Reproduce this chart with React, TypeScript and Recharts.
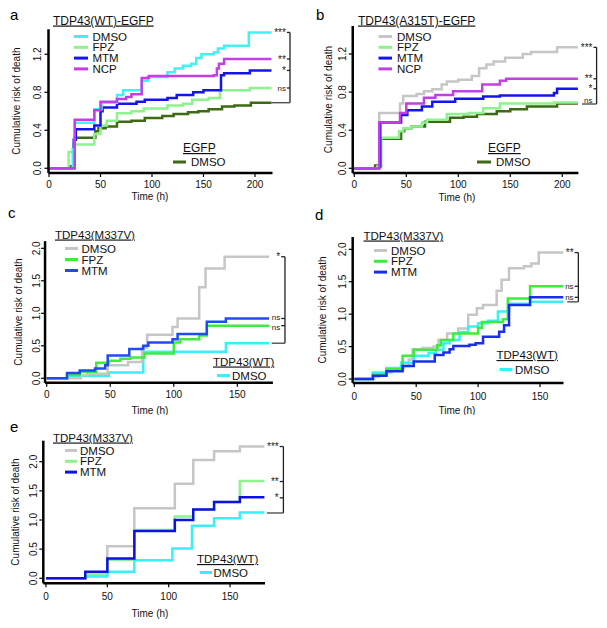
import React from 'react';
import { LineChart, Line, XAxis, YAxis, ReferenceLine, ReferenceDot } from 'recharts';

type Pt = [number, number];
const FONT = '"Liberation Sans", Arial, Helvetica, sans-serif';

// ---------- Panel a : TDP43(WT)-EGFP ----------
const aXTicks = [0, 50, 100, 150, 200];
const aYTicks = [0, 0.4, 0.8, 1.2];
const aDMSO: Pt[] = [[0,0],[23,0.2],[25,0.48],[44,0.62],[51,0.69],[66,0.77],[72,0.82],[90,0.92],[96,0.96],[115,1.01],[122,1.05],[130,1.08],[138,1.1],[143,1.16],[148,1.2],[160,1.22],[164,1.26],[170,1.29],[194,1.43],[216,1.43]];
const aFPZ: Pt[] = [[0,0],[19,0.17],[24,0.25],[44,0.36],[50,0.45],[56,0.5],[66,0.58],[80,0.6],[92,0.63],[115,0.66],[130,0.68],[139,0.72],[155,0.74],[166,0.82],[195,0.845],[216,0.845]];
const aMTM: Pt[] = [[0,0],[24,0.3],[26,0.41],[44,0.45],[50,0.6],[52,0.64],[66,0.68],[85,0.7],[93,0.72],[115,0.74],[124,0.77],[140,0.8],[150,0.82],[167,0.98],[170,1.0],[195,1.03],[216,1.03]];
const aNCP: Pt[] = [[0,0],[25,0.51],[44,0.61],[50,0.7],[66,0.73],[75,0.75],[80,0.78],[90,0.95],[97,0.97],[160,0.98],[163,1.05],[165,1.1],[170,1.15],[216,1.15]];
const aEGFP: Pt[] = [[0,0],[20,0.02],[25,0.32],[45,0.39],[48,0.42],[55,0.44],[66,0.49],[80,0.5],[93,0.53],[110,0.55],[121,0.57],[135,0.59],[145,0.6],[155,0.62],[168,0.65],[180,0.66],[196,0.69],[216,0.69]];

// ---------- Panel b : TDP43(A315T)-EGFP ----------
const bXTicks = [0, 50, 100, 150, 200];
const bYTicks = [0, 0.4, 0.8, 1.2];
const bDMSO: Pt[] = [[0,0],[24,0.58],[44,0.68],[47,0.76],[60,0.78],[67,0.81],[75,0.83],[84,0.88],[89,0.91],[100,0.93],[113,0.97],[120,1.05],[127,1.09],[134,1.12],[145,1.16],[162,1.2],[170,1.22],[195,1.27],[215,1.27]];
const bFPZ: Pt[] = [[0,0],[22,0.02],[26,0.32],[43,0.39],[47,0.42],[55,0.44],[65,0.48],[70,0.51],[89,0.57],[110,0.58],[124,0.63],[140,0.68],[192,0.69],[215,0.69]];
const bMTM: Pt[] = [[0,0],[24,0.02],[25,0.48],[45,0.56],[51,0.61],[65,0.65],[75,0.7],[97,0.73],[124,0.755],[140,0.765],[192,0.79],[195,0.835],[215,0.835]];
const bNCP: Pt[] = [[0,0],[24,0.48],[44,0.58],[50,0.68],[67,0.74],[78,0.77],[95,0.81],[123,0.88],[140,0.92],[146,0.94],[215,0.94]];
const bEGFP: Pt[] = [[0,0],[20,0.03],[25,0.31],[45,0.39],[48,0.42],[55,0.44],[68,0.49],[92,0.53],[105,0.54],[118,0.57],[137,0.6],[150,0.62],[166,0.65],[195,0.68],[215,0.68]];

// ---------- Panel c : TDP43(M337V) ----------
const cXTicks = [0, 50, 100, 150];
const cYTicks = [0, 0.5, 1, 1.5, 2];
const cDMSO: Pt[] = [[0,0],[27,0.05],[32,0.07],[48,0.2],[64,0.25],[75,0.47],[79,0.67],[99,0.79],[103,0.92],[120,1.4],[125,1.69],[140,1.87],[175,1.87]];
const cFPZ: Pt[] = [[0,0],[16,0.05],[26,0.1],[39,0.24],[49,0.27],[58,0.3],[66,0.32],[77,0.38],[100,0.55],[105,0.6],[120,0.66],[126,0.81],[175,0.81]];
const cMTM: Pt[] = [[0,0],[16,0.08],[26,0.12],[38,0.15],[46,0.2],[48,0.35],[65,0.45],[76,0.5],[80,0.55],[99,0.6],[103,0.68],[126,0.87],[141,0.92],[175,0.92]];
const cWT: Pt[] = [[0,0],[16,0.04],[49,0.09],[76,0.41],[141,0.54],[175,0.54]];

// ---------- Panel d : TDP43(M337V) ----------
const dXTicks = [0, 50, 100, 150];
const dYTicks = [0, 0.5, 1, 1.5, 2];
const dDMSO: Pt[] = [[0,0],[16,0.03],[20,0.06],[26,0.1],[30,0.15],[40,0.2],[44,0.3],[47,0.46],[55,0.48],[64,0.5],[68,0.6],[75,0.7],[84,0.78],[92,0.99],[99,1.09],[104,1.14],[115,1.36],[119,1.53],[125,1.71],[137,1.74],[143,1.78],[149,1.95],[169,1.95]];
const dFPZ: Pt[] = [[0,0],[15,0.07],[26,0.15],[39,0.36],[48,0.45],[67,0.52],[70,0.6],[80,0.7],[100,0.79],[103,0.88],[120,0.92],[124,1.24],[142,1.43],[169,1.43]];
const dMTM: Pt[] = [[0,0],[15,0.05],[26,0.12],[39,0.2],[48,0.27],[65,0.37],[72,0.41],[77,0.46],[80,0.51],[93,0.53],[98,0.55],[104,0.65],[117,0.73],[121,0.83],[125,1.14],[142,1.26],[169,1.26]];
const dWT: Pt[] = [[0,0],[15,0.1],[26,0.17],[38,0.25],[48,0.36],[60,0.4],[66,0.45],[72,0.55],[77,0.6],[85,0.72],[92,0.81],[100,0.86],[108,0.9],[116,1.04],[125,1.16],[142,1.19],[169,1.19]];

// ---------- Panel e : TDP43(M337V) ----------
const eXTicks = [0, 50, 100, 150];
const eYTicks = [0, 0.5, 1, 1.5, 2];
const eDMSO: Pt[] = [[0,0],[32,0.06],[50,0.55],[72,1.2],[105,1.62],[120,2.03],[137,2.18],[158,2.26],[178,2.26]];
const eFPZ: Pt[] = [[0,0],[32,0.06],[50,0.32],[72,0.83],[105,1.06],[120,1.18],[137,1.31],[158,1.67],[178,1.67]];
const eMTM: Pt[] = [[0,0],[32,0.11],[50,0.34],[72,0.81],[105,1.0],[120,1.18],[137,1.31],[158,1.39],[178,1.39]];
const eWT: Pt[] = [[0,0],[32,0.03],[50,0.11],[72,0.31],[103,0.51],[119,0.9],[137,1.03],[158,1.13],[178,1.13]];

// ---------- labels ----------
const treatments4 = ['DMSO', 'FPZ', 'MTM', 'NCP'];
const treatments3 = ['DMSO', 'FPZ', 'MTM'];

const C = {
  cyan: '#3ff3f3', lgreen: '#8ef28e', blue: '#1414ee', magenta: '#c23fe6', dgreen: '#3d6a12',
  grey: '#c6c6c6', green: '#3cee3c', rblue: '#1f4cee', dblue: '#1a2fee', eblue: '#1010e0', cyan2: '#36f0fa',
};

type Series = { pts: Pt[]; color: string };
type Sig = { y: number; text: string; tick?: boolean; ly?: number };
type PanelCfg = {
  box: { left: number; top: number; width: number; height: number };
  margin: { top: number; right: number; bottom: number; left: number };
  xDomain: [number, number]; yDomain: [number, number];
  xTicks: number[]; yTicks: number[];
  series: Series[];
  xb: number; tick: number; sigs: Sig[]; bottom: { y: number; from: number };
  yLabelX: number; xLabel: { x: number; y: number }; yTickOff: number; xTickMargin: number;
};

const AX_H = 20;
const AX_W = 30;

function Panel({ cfg }: { cfg: PanelCfg }) {
  const { box, margin } = cfg;
  const plotH = box.height - margin.top - margin.bottom - AX_H;
  const yMid = margin.top + plotH / 2;
  const topY = Math.max(...cfg.sigs.map((s) => s.y));
  return (
    <div style={{ position: 'absolute', left: box.left, top: box.top, width: box.width, height: box.height }}>
      <LineChart width={box.width} height={box.height} margin={margin}>
        <XAxis
          type="number" dataKey="t" domain={cfg.xDomain} allowDataOverflow ticks={cfg.xTicks} interval={0}
          height={AX_H} tickSize={4} tickMargin={cfg.xTickMargin}
          axisLine={{ stroke: '#000', strokeWidth: 2.5 }} tickLine={{ stroke: '#000', strokeWidth: 1.2 }}
          tick={{ fontSize: 10, fill: '#111', fontFamily: FONT }}
          label={() => (
            <text x={cfg.xLabel.x - box.left} y={cfg.xLabel.y - box.top} textAnchor="middle" fontSize={10} fontFamily={FONT} fill="#111">Time (h)</text>
          )}
        />
        <YAxis
          type="number" domain={cfg.yDomain} allowDataOverflow ticks={cfg.yTicks} interval={0} width={AX_W}
          tickSize={4} tickMargin={0}
          axisLine={{ stroke: '#000', strokeWidth: 2.5 }} tickLine={{ stroke: '#000', strokeWidth: 1.2 }}
          tick={(p: any) => {
            const cx = p.x - cfg.yTickOff;
            return (
              <text x={cx} y={p.y} transform={`rotate(-90 ${cx} ${p.y})`} textAnchor="middle" dominantBaseline="central" fontSize={10} fontFamily={FONT} fill="#111">
                {Number(p.payload.value).toFixed(1)}
              </text>
            );
          }}
          label={() => {
            const lx = cfg.yLabelX - box.left;
            return (
              <text x={lx} y={yMid} transform={`rotate(-90 ${lx} ${yMid})`} textAnchor="middle" dominantBaseline="central" fontSize={10} fontFamily={FONT} fill="#111">
                Cumulative risk of death
              </text>
            );
          }}
        />
        {cfg.series.map((s, i) => (
          <Line key={i} data={s.pts.map(([t, v]) => ({ t, v }))} dataKey="v" type="stepAfter" stroke={s.color}
            strokeWidth={2.5} dot={false} activeDot={false} isAnimationActive={false} />
        ))}
        <ReferenceLine segment={[{ x: cfg.xb, y: topY }, { x: cfg.xb, y: cfg.bottom.y }]} stroke="#222" strokeWidth={1.3} ifOverflow="visible" />
        <ReferenceLine segment={[{ x: cfg.bottom.from, y: cfg.bottom.y }, { x: cfg.xb, y: cfg.bottom.y }]} stroke="#444" strokeWidth={1.3} ifOverflow="visible" />
        {cfg.sigs.filter((s) => s.tick !== false).map((s, i) => (
          <ReferenceLine key={'t' + i} segment={[{ x: cfg.xb - cfg.tick, y: s.y }, { x: cfg.xb, y: s.y }]} stroke="#222" strokeWidth={1.3} ifOverflow="visible" />
        ))}
        {cfg.sigs.map((s, i) => (
          <ReferenceDot key={'d' + i} x={cfg.xb - cfg.tick} y={s.ly ?? s.y} r={0} fill="none" stroke="none" ifOverflow="visible"
            label={{ value: s.text, position: 'left', offset: 1, fontSize: s.text === 'ns' ? 8 : 10, fill: '#222', fontFamily: FONT }} />
        ))}
      </LineChart>
    </div>
  );
}

const panels: PanelCfg[] = [
  {
    box: { left: 0, top: 0, width: 300, height: 205 },
    margin: { top: 29.3, right: 27.5, bottom: 12, left: 18.5 },
    xDomain: [-0.5, 217], yDomain: [-0.05, 1.463], xTicks: aXTicks, yTicks: aYTicks,
    series: [
      { pts: aEGFP, color: C.dgreen }, { pts: aFPZ, color: C.lgreen }, { pts: aMTM, color: C.blue },
      { pts: aDMSO, color: C.cyan }, { pts: aNCP, color: C.magenta },
    ],
    xb: 234, tick: 3,
    sigs: [{ y: 1.43, text: '***' }, { y: 1.15, text: '**' }, { y: 1.03, text: '*' }, { y: 0.845, text: 'ns' }],
    bottom: { y: 0.69, from: 216 },
    yLabelX: 17, xLabel: { x: 150, y: 200 }, yTickOff: 7, xTickMargin: 4,
  },
  {
    box: { left: 303, top: 0, width: 304, height: 205 },
    margin: { top: 26, right: 28.6, bottom: 11.94, left: 19.74 },
    xDomain: [-1.5, 215.5], yDomain: [-0.05, 1.494], xTicks: bXTicks, yTicks: bYTicks,
    series: [
      { pts: bDMSO, color: C.grey }, { pts: bEGFP, color: C.dgreen }, { pts: bFPZ, color: C.lgreen },
      { pts: bMTM, color: C.blue }, { pts: bNCP, color: C.magenta },
    ],
    xb: 233, tick: 3,
    sigs: [{ y: 1.27, text: '***' }, { y: 0.94, text: '**' }, { y: 0.835, text: '*' }, { y: 0.72, text: 'ns', tick: false }],
    bottom: { y: 0.675, from: 219 },
    yLabelX: 328.3, xLabel: { x: 457, y: 201 }, yTickOff: 6, xTickMargin: 4,
  },
  {
    box: { left: 0, top: 205, width: 300, height: 210 },
    margin: { top: 36.15, right: 27.1, bottom: 12.15, left: 15.05 },
    xDomain: [-1.3, 178], yDomain: [-0.07, 2.11], xTicks: cXTicks, yTicks: cYTicks,
    series: [
      { pts: cWT, color: C.cyan2 }, { pts: cDMSO, color: C.grey }, { pts: cFPZ, color: C.green }, { pts: cMTM, color: C.rblue },
    ],
    xb: 187.5, tick: 3,
    sigs: [{ y: 1.87, text: '*' }, { y: 0.92, text: 'ns', ly: 0.94 }, { y: 0.81, text: 'ns', ly: 0.79 }],
    bottom: { y: 0.54, from: 177 },
    yLabelX: 18.3, xLabel: { x: 150, y: 413.5 }, yTickOff: 4.3, xTickMargin: 4,
  },
  {
    box: { left: 303, top: 205, width: 304, height: 210 },
    margin: { top: 32, right: 43.5, bottom: 12.1, left: 19.7 },
    xDomain: [-1.3, 169], yDomain: [-0.06, 2.19], xTicks: dXTicks, yTicks: dYTicks,
    series: [
      { pts: dDMSO, color: C.grey }, { pts: dWT, color: C.cyan2 }, { pts: dFPZ, color: C.green }, { pts: dMTM, color: C.dblue },
    ],
    xb: 181, tick: 3,
    sigs: [{ y: 1.95, text: '**' }, { y: 1.43, text: 'ns' }, { y: 1.26, text: 'ns' }],
    bottom: { y: 1.19, from: 172 },
    yLabelX: 322.7, xLabel: { x: 457, y: 414 }, yTickOff: 6, xTickMargin: 5.5,
  },
  {
    box: { left: 0, top: 415, width: 300, height: 213 },
    margin: { top: 25.7, right: 35, bottom: 24.7, left: 13.3 },
    xDomain: [-2.2, 178.5], yDomain: [-0.086, 2.36], xTicks: eXTicks, yTicks: eYTicks,
    series: [
      { pts: eDMSO, color: C.grey }, { pts: eFPZ, color: C.lgreen }, { pts: eWT, color: C.cyan2 }, { pts: eMTM, color: C.eblue },
    ],
    xb: 193.5, tick: 3,
    sigs: [{ y: 2.26, text: '***' }, { y: 1.66, text: '**' }, { y: 1.38, text: '*' }],
    bottom: { y: 1.12, from: 180 },
    yLabelX: 15, xLabel: { x: 150, y: 617 }, yTickOff: 6, xTickMargin: 5.5,
  },
];

type LegendCfg = {
  title: string; tx: number; ty: number; tsize: number;
  labels: string[]; colors: string[]; lx1: number; lx2: number; textX: number; y0: number; step: number;
  sub: { title: string; tx: number; ty: number; label: string; color: string; lx1: number; lx2: number; textX: number; y: number };
};

const legends: LegendCfg[] = [
  {
    title: 'TDP43(WT)-EGFP', tx: 53, ty: 24.5, tsize: 12,
    labels: treatments4, colors: [C.cyan, C.lgreen, C.blue, C.magenta], lx1: 74, lx2: 88, textX: 92.5, y0: 36.5, step: 10.8,
    sub: { title: 'EGFP', tx: 183, ty: 152, label: 'DMSO', color: C.dgreen, lx1: 173, lx2: 186, textX: 191, y: 162 },
  },
  {
    title: 'TDP43(A315T)-EGFP', tx: 358, ty: 24.5, tsize: 12,
    labels: treatments4, colors: [C.grey, C.lgreen, C.blue, C.magenta], lx1: 378.5, lx2: 392, textX: 397, y0: 36.5, step: 10.8,
    sub: { title: 'EGFP', tx: 488, ty: 152, label: 'DMSO', color: C.dgreen, lx1: 477, lx2: 491, textX: 496, y: 162 },
  },
  {
    title: 'TDP43(M337V)', tx: 55, ty: 238.5, tsize: 11.5,
    labels: treatments3, colors: [C.grey, C.green, C.rblue], lx1: 65, lx2: 78, textX: 81.5, y0: 248.5, step: 11,
    sub: { title: 'TDP43(WT)', tx: 213, ty: 365.5, label: 'DMSO', color: C.cyan2, lx1: 217, lx2: 230, textX: 232, y: 375.5 },
  },
  {
    title: 'TDP43(M337V)', tx: 363.5, ty: 239.5, tsize: 11.5,
    labels: treatments3, colors: [C.grey, C.green, C.dblue], lx1: 374, lx2: 387, textX: 391, y0: 250.5, step: 10.8,
    sub: { title: 'TDP43(WT)', tx: 496.5, ty: 359, label: 'DMSO', color: C.cyan2, lx1: 499.5, lx2: 512.5, textX: 515, y: 369.5 },
  },
  {
    title: 'TDP43(M337V)', tx: 53, ty: 441.5, tsize: 11.5,
    labels: treatments3, colors: [C.grey, C.lgreen, C.eblue], lx1: 65, lx2: 77, textX: 80, y0: 450.5, step: 10.8,
    sub: { title: 'TDP43(WT)', tx: 197, ty: 563, label: 'DMSO', color: C.cyan2, lx1: 200, lx2: 212, textX: 213.5, y: 572.5 },
  },
];

const panelLetters = [
  { t: 'a', x: 10, y: 20 }, { t: 'b', x: 316, y: 20 }, { t: 'c', x: 8, y: 218 },
  { t: 'd', x: 315, y: 220 }, { t: 'e', x: 10, y: 432 },
];

function Overlay() {
  return (
    <svg width={607} height={628} style={{ position: 'absolute', left: 0, top: 0, pointerEvents: 'none' }} fontFamily={FONT}>
      {panelLetters.map((p) => (
        <text key={p.t} x={p.x} y={p.y} fontSize={15} fill="#000">{p.t}</text>
      ))}
      {legends.map((lg, k) => (
        <g key={k}>
          <text x={lg.tx} y={lg.ty} fontSize={lg.tsize} fill="#111" style={{ textDecoration: 'underline' }}>{lg.title}</text>
          {lg.labels.map((lab, i) => {
            const y = lg.y0 + i * lg.step;
            return (
              <g key={lab}>
                <line x1={lg.lx1} x2={lg.lx2} y1={y} y2={y} stroke={lg.colors[i]} strokeWidth={3} />
                <text x={lg.textX} y={y} dominantBaseline="central" fontSize={11.5} fill="#111">{lab}</text>
              </g>
            );
          })}
          <text x={lg.sub.tx} y={lg.sub.ty} fontSize={lg.tsize} fill="#111" style={{ textDecoration: 'underline' }}>{lg.sub.title}</text>
          <line x1={lg.sub.lx1} x2={lg.sub.lx2} y1={lg.sub.y} y2={lg.sub.y} stroke={lg.sub.color} strokeWidth={3} />
          <text x={lg.sub.textX} y={lg.sub.y} dominantBaseline="central" fontSize={11.5} fill="#111">{lg.sub.label}</text>
        </g>
      ))}
    </svg>
  );
}

export default function App() {
  return (
    <div style={{ position: 'absolute', left: 0, top: 0, width: 607, height: 628, background: '#fff', fontFamily: FONT }}>
      {panels.map((cfg, i) => (
        <Panel key={i} cfg={cfg} />
      ))}
      <Overlay />
    </div>
  );
}
